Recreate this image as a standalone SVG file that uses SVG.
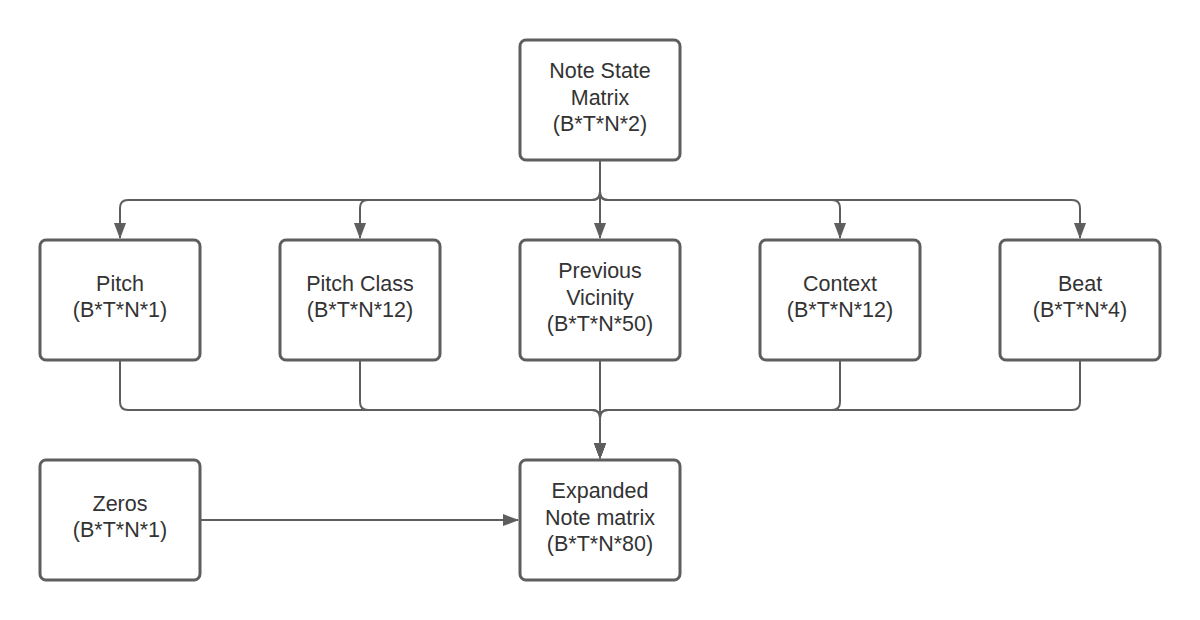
<svg xmlns="http://www.w3.org/2000/svg" width="1200" height="620" viewBox="0 0 1200 620">
<style>
.box{fill:#ffffff;stroke:#5e5e5e;stroke-width:3}
.t{font-family:"Liberation Sans",Arial,sans-serif;font-size:21.5px;fill:#333333;text-anchor:middle}
.c{fill:none;stroke:#5e5e5e;stroke-width:2}
</style>
<defs>
<marker id="ah" markerWidth="16" markerHeight="12" refX="15" refY="6" orient="auto" markerUnits="userSpaceOnUse">
<path d="M0,0 L16,6 L0,12 Z" fill="#5e5e5e"/>
</marker>
</defs>
<rect width="1200" height="620" fill="#ffffff"/>
<g id="connectors">
<path class="c" d="M600,161 L600,192 Q600,200 592,200 L128,200 Q120,200 120,208 L120,238" marker-end="url(#ah)"/>
<path class="c" d="M600,161 L600,192 Q600,200 592,200 L368,200 Q360,200 360,208 L360,238" marker-end="url(#ah)"/>
<path class="c" d="M600,161 L600,238" marker-end="url(#ah)"/>
<path class="c" d="M600,161 L600,192 Q600,200 608,200 L832,200 Q840,200 840,208 L840,238" marker-end="url(#ah)"/>
<path class="c" d="M600,161 L600,192 Q600,200 608,200 L1072,200 Q1080,200 1080,208 L1080,238" marker-end="url(#ah)"/>
<path class="c" d="M120,361 L120,402 Q120,410 128,410 L592,410 Q600,410 600,418 L600,458" marker-end="url(#ah)"/>
<path class="c" d="M360,361 L360,402 Q360,410 368,410 L592,410 Q600,410 600,418 L600,458" marker-end="url(#ah)"/>
<path class="c" d="M600,361 L600,458" marker-end="url(#ah)"/>
<path class="c" d="M840,361 L840,402 Q840,410 832,410 L608,410 Q600,410 600,418 L600,458" marker-end="url(#ah)"/>
<path class="c" d="M1080,361 L1080,402 Q1080,410 1072,410 L608,410 Q600,410 600,418 L600,458" marker-end="url(#ah)"/>
<path class="c" d="M201,520 L518,520" marker-end="url(#ah)"/>
</g>
<g id="note-state">
<rect class="box" x="520" y="40" width="160" height="120" rx="6"/>
<text class="t" x="600" y="78">Note State</text>
<text class="t" x="600" y="104.5">Matrix</text>
<text class="t" x="600" y="131">(B*T*N*2)</text>
</g>
<g id="pitch">
<rect class="box" x="40" y="240" width="160" height="120" rx="6"/>
<text class="t" x="120" y="291">Pitch</text>
<text class="t" x="120" y="317">(B*T*N*1)</text>
</g>
<g id="pitch-class">
<rect class="box" x="280" y="240" width="160" height="120" rx="6"/>
<text class="t" x="360" y="291">Pitch Class</text>
<text class="t" x="360" y="317">(B*T*N*12)</text>
</g>
<g id="previous-vicinity">
<rect class="box" x="520" y="240" width="160" height="120" rx="6"/>
<text class="t" x="600" y="278">Previous</text>
<text class="t" x="600" y="304.5">Vicinity</text>
<text class="t" x="600" y="331">(B*T*N*50)</text>
</g>
<g id="context">
<rect class="box" x="760" y="240" width="160" height="120" rx="6"/>
<text class="t" x="840" y="291">Context</text>
<text class="t" x="840" y="317">(B*T*N*12)</text>
</g>
<g id="beat">
<rect class="box" x="1000" y="240" width="160" height="120" rx="6"/>
<text class="t" x="1080" y="291">Beat</text>
<text class="t" x="1080" y="317">(B*T*N*4)</text>
</g>
<g id="zeros">
<rect class="box" x="40" y="460" width="160" height="120" rx="6"/>
<text class="t" x="120" y="511">Zeros</text>
<text class="t" x="120" y="537">(B*T*N*1)</text>
</g>
<g id="expanded">
<rect class="box" x="520" y="460" width="160" height="120" rx="6"/>
<text class="t" x="600" y="498">Expanded</text>
<text class="t" x="600" y="524.5">Note matrix</text>
<text class="t" x="600" y="551">(B*T*N*80)</text>
</g>
</svg>
